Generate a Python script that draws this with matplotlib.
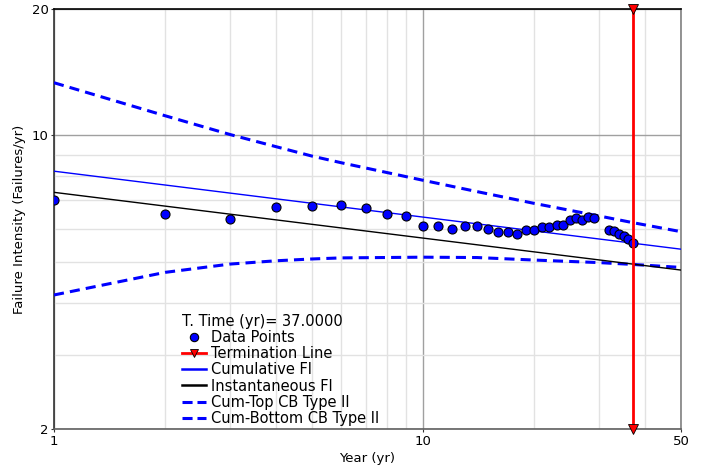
import numpy as np
import matplotlib
matplotlib.use("Agg")
import matplotlib.pyplot as plt
from matplotlib.ticker import FixedLocator, NullFormatter
from matplotlib.lines import Line2D

plt.rcParams['font.family'] = ['DejaVu Sans']

# data points (year, failure intensity)
years = [1, 2, 3, 4, 5, 6, 7, 8, 9, 10, 11, 12, 13, 14, 15, 16, 17, 18, 19, 20,
         21, 22, 23, 24, 25, 26, 27, 28, 29, 32, 33, 34, 35, 36, 37]
fi = [7.00, 6.50, 6.33, 6.74, 6.79, 6.83, 6.71, 6.50, 6.44, 6.10, 6.09, 6.00,
      6.08, 6.08, 6.00, 5.88, 5.88, 5.83, 5.94, 5.95, 6.04, 6.04, 6.13, 6.13,
      6.28, 6.35, 6.30, 6.40, 6.35, 5.95, 5.93, 5.83, 5.77, 5.67, 5.53]

# fitted lines (end points)
fit_t = [1, 50]
cum_fi = [8.22, 5.36]
inst_fi = [7.32, 4.78]

# confidence bounds
cb_t = [1, 2, 3, 4, 5, 6, 10, 14, 20, 30, 37, 50]
cb_top = [13.35, 11.14, 10.05, 9.40, 8.93, 8.61, 7.82, 7.35, 6.89, 6.43, 6.20, 5.90]
cb_bot = [4.17, 4.72, 4.94, 5.03, 5.08, 5.11, 5.13, 5.12, 5.05, 4.98, 4.93, 4.85]

t_end = 37.0

fig = plt.figure(figsize=(7.19, 4.70), dpi=100)
ax = fig.add_axes([54 / 719, 41 / 470, 627 / 719, 420 / 470])
ax.set_xscale('log')
ax.set_yscale('log')
ax.set_xlim(1, 50)
ax.set_ylim(2, 20)

# grid
ax.xaxis.set_major_locator(FixedLocator([1, 10, 50]))
ax.xaxis.set_minor_locator(FixedLocator([2, 3, 4, 5, 6, 7, 8, 9, 20, 30, 40]))
ax.yaxis.set_major_locator(FixedLocator([2, 10, 20]))
ax.yaxis.set_minor_locator(FixedLocator([3, 4, 5, 6, 7, 8, 9]))
ax.set_xticklabels(['1', '10', '50'])
ax.set_yticklabels(['2', '10', '20'])
ax.xaxis.set_minor_formatter(NullFormatter())
ax.yaxis.set_minor_formatter(NullFormatter())
ax.grid(which='major', color='#a0a0a0', lw=1.0)
ax.grid(which='minor', color='#e2e2e2', lw=1.0)
ax.set_axisbelow(True)
ax.tick_params(which='major', length=2.5, width=0.8, pad=1.5, labelsize=9.5, colors='#333333',
               labelcolor='black')
ax.tick_params(which='minor', length=0)

for side, col in [('top', 'black'), ('left', '#333333'), ('right', '#808080'), ('bottom', '#606060')]:
    ax.spines[side].set_color(col)
    ax.spines[side].set_linewidth(1.2)

dash = (3.3, 2.0)
ax.plot(cb_t, cb_top, color='#0000ff', lw=2.2, dashes=dash, label='Cum-Top CB Type II', zorder=3)
ax.plot(cb_t, cb_bot, color='#0000ff', lw=2.2, dashes=dash, label='Cum-Bottom CB Type II', zorder=3)
ax.plot(fit_t, cum_fi, color='#0000ff', lw=1.0, label='Cumulative FI', zorder=3)
ax.plot(fit_t, inst_fi, color='black', lw=1.0, label='Instantaneous FI', zorder=3)
ax.plot(years, fi, 'o', color='#0000ff', mec='black', mew=0.8, ms=6.5, label='Data Points', zorder=4)

ax.plot([t_end, t_end], [2, 20], color='red', lw=2.0, zorder=5, clip_on=False)
ax.plot([t_end, t_end], [2, 20], 'v', color='red', mec='black', mew=0.6, ms=7,
        ls='none', zorder=6, clip_on=False)

ax.set_xlabel('Year (yr)', fontsize=9.5, labelpad=3)
ax.set_ylabel('Failure Intensity (Failures/yr)', fontsize=9.5, labelpad=4)

handles = [
    Line2D([], [], marker='o', color='#0000ff', mec='black', mew=0.8, ms=6, ls='none'),
    Line2D([], [], color='red', lw=2.0, marker='v', mfc='red', mec='black', mew=0.6, ms=6),
    Line2D([], [], color='#0000ff', lw=1.8),
    Line2D([], [], color='black', lw=1.8),
    Line2D([], [], color='#0000ff', lw=2.2, dashes=(3.3, 1.6)),
    Line2D([], [], color='#0000ff', lw=2.2, dashes=(3.3, 1.6)),
]
labels = ['Data Points', 'Termination Line', 'Cumulative FI', 'Instantaneous FI',
          'Cum-Top CB Type II', 'Cum-Bottom CB Type II']
leg = ax.legend(handles, labels, title='T. Time (yr)= 37.0000', loc='upper left',
                bbox_to_anchor=(0.2045, 0.274), frameon=False, fontsize=10.5,
                title_fontsize=10.5, borderpad=0, borderaxespad=0, labelspacing=0.08,
                handlelength=1.6, handletextpad=0.35, alignment='left')

fig.savefig('out.png', dpi=100)
